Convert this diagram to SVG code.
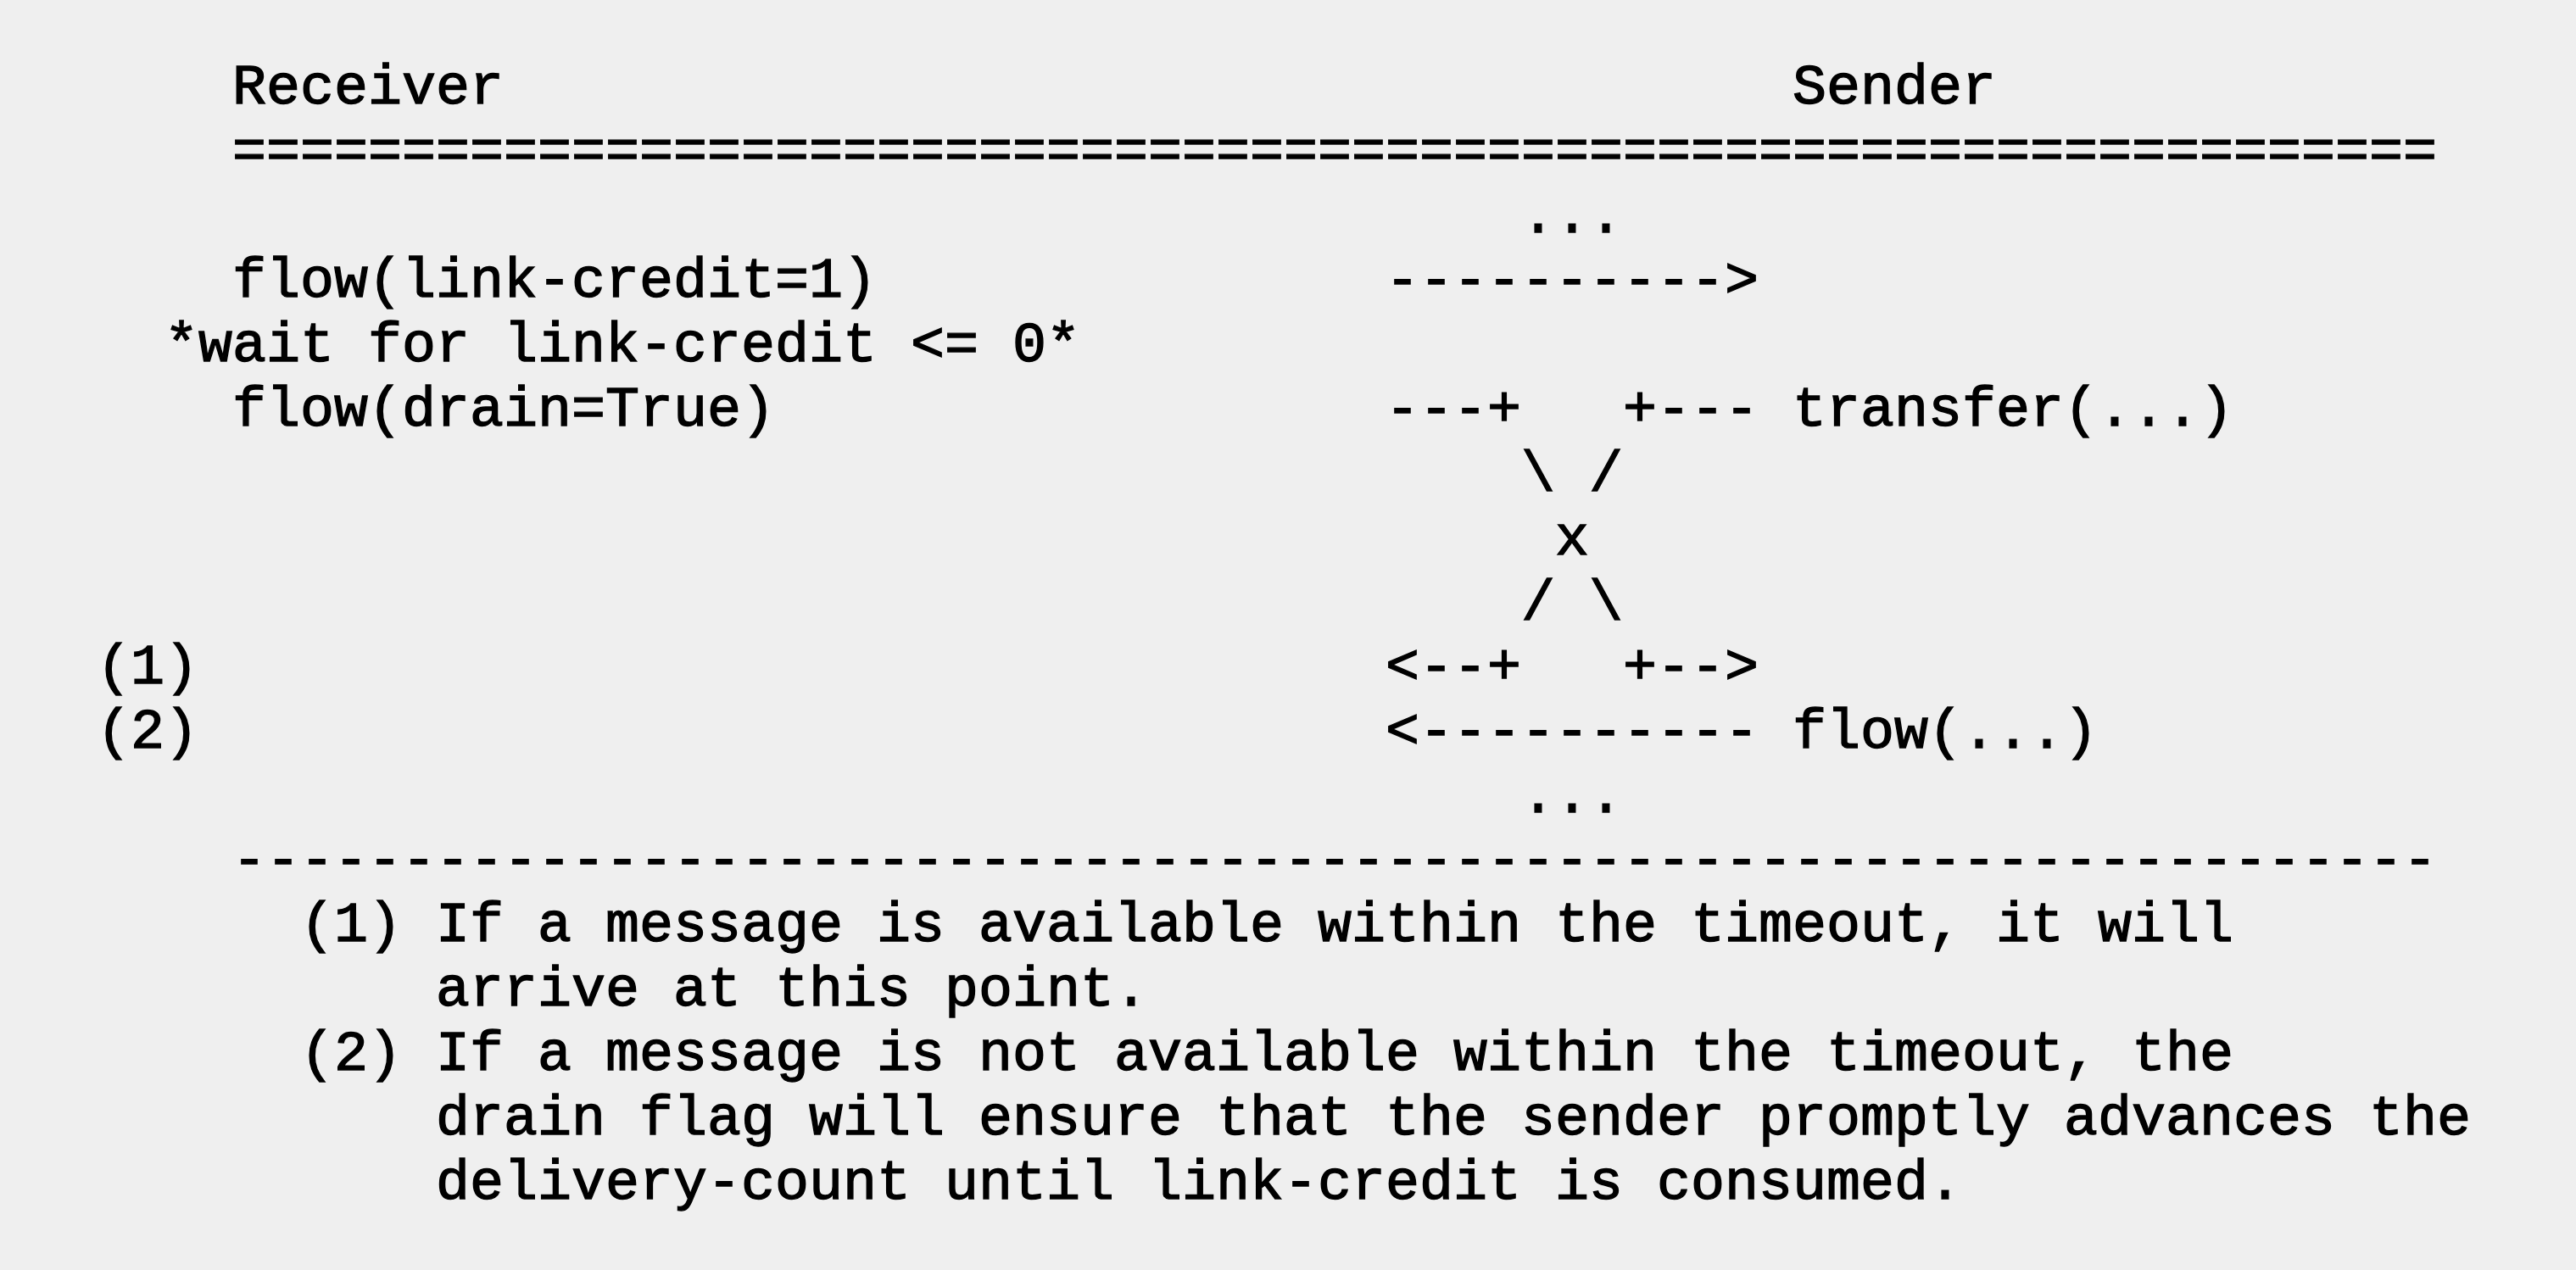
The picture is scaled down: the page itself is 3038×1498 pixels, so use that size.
<svg xmlns="http://www.w3.org/2000/svg" width="3038" height="1498" viewBox="0 0 3038 1498" xml:space="preserve">
<style>
.t{font-family:"Liberation Mono","Courier New",monospace;font-size:66.66px;fill:#000;stroke:#000;stroke-width:1.4px;white-space:pre}
</style>
<rect width="3038" height="1498" fill="#efefef"/>
<g id="receiver"><text class="t" x="274" y="121.7">Receiver</text></g>
<g id="sender"><text class="t" x="2114" y="121.7">Sender</text></g>
<g id="flow-credit"><text class="t" x="274" y="349.7">flow(link-credit=1)</text></g>
<g id="wait"><text class="t" x="194" y="425.7">*wait for link-credit &lt;= 0*</text></g>
<g id="flow-drain"><text class="t" x="274" y="501.7">flow(drain=True)</text></g>
<g id="transfer"><text class="t" x="2114" y="501.7">transfer(...)</text></g>
<g id="flow-reply"><text class="t" x="2114" y="881.7">flow(...)</text></g>
<g id="mark-1"><text class="t" x="114" y="805.7">(1)</text></g>
<g id="mark-2"><text class="t" x="114" y="881.7">(2)</text></g>
<g id="connectors">
<text class="t" x="274" y="197.7">=================================================================</text>
<text class="t" x="1794" y="273.7">...</text>
<text class="t" x="1634" y="349.7">----------&gt;</text>
<text class="t" x="1634" y="501.7">---+</text>
<text class="t" x="1914" y="501.7">+---</text>
<text class="t" x="1794" y="577.7">\ /</text>
<text class="t" x="1834" y="653.7">x</text>
<text class="t" x="1794" y="729.7">/ \</text>
<text class="t" x="1634" y="805.7">&lt;--+</text>
<text class="t" x="1914" y="805.7">+--&gt;</text>
<text class="t" x="1634" y="881.7">&lt;----------</text>
<text class="t" x="1794" y="957.7">...</text>
<text class="t" x="274" y="1033.7">-----------------------------------------------------------------</text>
</g>
<g id="notes">
<text class="t" x="354" y="1109.7">(1) If a message is available within the timeout, it will</text>
<text class="t" x="514" y="1185.7">arrive at this point.</text>
<text class="t" x="354" y="1261.7">(2) If a message is not available within the timeout, the</text>
<text class="t" x="514" y="1337.7">drain flag will ensure that the sender promptly advances the</text>
<text class="t" x="514" y="1413.7">delivery-count until link-credit is consumed.</text>
</g>
</svg>
